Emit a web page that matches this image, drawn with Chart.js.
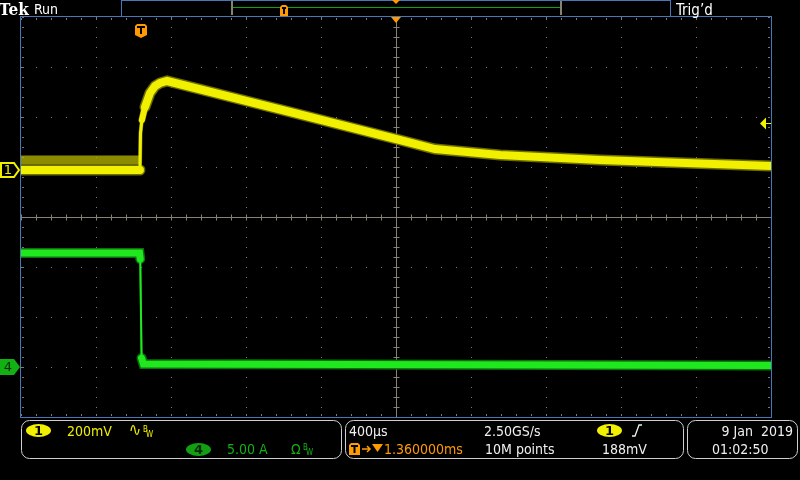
<!DOCTYPE html>
<html>
<head>
<meta charset="utf-8">
<script src="https://cdn.jsdelivr.net/npm/chart.js@4.4.1/dist/chart.umd.min.js"></script>
<style>
  html, body { margin: 0; padding: 0; background: #000; }
  canvas { display: block; }
</style>
</head>
<body>
<canvas id="scope" width="800" height="480"></canvas>
<script>
// horizontal: 400us/div, 10 divisions, trigger at t=0, center at 1.36 ms
var timeDiv = 0.4;
var timeCenter = 1.36;

// channel 1 (yellow), mV, 200 mV/div, ground marker 0.94 div above center
var ch1Scale = 200;
var ch1Offset = 0.94;
var ch1Time = [-0.64, -0.0055, -0.0027, 0.0048, 0.0213, 0.048, 0.0747, 0.101, 0.139, 0.848, 1.36, 1.568, 1.915, 2.448, 2.981, 3.36];
var ch1mV   = [0, 0, 148, 200, 252, 308, 336, 348, 356, 222, 124, 84, 60, 40, 26, 16];
// pre-trigger noise stripe above the baseline
var ch1NoiseTime = [-0.64, -0.006];
var ch1NoisemV   = [40, 40];
var ch1TrigLevel = 188;

// channel 4 (green), A, 5 A/div, ground marker 3 div below center
var ch4Scale = 5;
var ch4Offset = -3;
var ch4Time = [-0.64, -0.008, -0.004, 0.003, 0.013, 3.36];
var ch4Amps = [11.4, 11.4, 10.8, 0.9, 0.3, 0.15];

function toDiv(times, vals, scale, offset) {
  return times.map(function(t, i) { return {x: t, y: offset + vals[i] / scale}; });
}

var xMin = timeCenter - 5 * timeDiv;
var xMax = timeCenter + 5 * timeDiv;

var yellow = '#f0f000';
var green = '#1fe81f';
var orange = '#ff9a00';
var blue = '#4677b8';
var tan = '#8a8270';

function thinRise(ctx) {
  if (ctx.p0.parsed.x > -0.006 && ctx.p1.parsed.x < 0.006) return 3;
  if (ctx.p0.parsed.x > -0.006 && ctx.p1.parsed.x < 0.03) return 6;
  return undefined;
}
function thinDrop(ctx) {
  if (Math.abs(ctx.p1.parsed.y - ctx.p0.parsed.y) > 0.5) return 2;
  return undefined;
}

var scopeGrid = {
  id: 'scopeGrid',
  beforeDatasetsDraw: function(chart) {
    var ctx = chart.ctx, a = chart.chartArea, x = chart.scales.x, y = chart.scales.y;
    var i, j, px, py;
    ctx.save();
    ctx.fillStyle = '#7a7a7a';
    // dotted division lines
    for (i = 1; i < 10; i++) {
      if (i === 5) continue;
      px = Math.round(x.getPixelForValue(xMin + i * timeDiv));
      for (j = 0; j <= 40; j++) {
        py = Math.round(y.getPixelForValue(-4 + j * 0.2));
        ctx.fillRect(px, py, 1, 1);
      }
    }
    for (i = 1; i < 8; i++) {
      if (i === 4) continue;
      py = Math.round(y.getPixelForValue(-4 + i));
      for (j = 0; j <= 50; j++) {
        px = Math.round(x.getPixelForValue(xMin + j * timeDiv / 5));
        ctx.fillRect(px, py, 1, 1);
      }
    }
    // edge ticks
    for (j = 0; j <= 40; j++) {
      py = Math.round(y.getPixelForValue(-4 + j * 0.2));
      ctx.fillRect(a.left + 1, py, 2, 1);
      ctx.fillRect(a.right - 3, py, 2, 1);
    }
    for (j = 0; j <= 50; j++) {
      px = Math.round(x.getPixelForValue(xMin + j * timeDiv / 5));
      ctx.fillRect(px, a.top + 1, 1, 2);
      ctx.fillRect(px, a.bottom - 3, 1, 2);
    }
    // center crosshair
    var cx = Math.round(x.getPixelForValue(timeCenter)) + 0.5;
    var cy = Math.round(y.getPixelForValue(0)) + 0.5;
    ctx.strokeStyle = tan;
    ctx.lineWidth = 1;
    ctx.beginPath();
    ctx.moveTo(cx, a.top); ctx.lineTo(cx, a.bottom);
    ctx.moveTo(a.left, cy); ctx.lineTo(a.right, cy);
    for (j = 0; j <= 40; j++) {
      py = Math.round(y.getPixelForValue(-4 + j * 0.2)) + 0.5;
      ctx.moveTo(cx - 3, py); ctx.lineTo(cx + 3, py);
    }
    for (j = 0; j <= 50; j++) {
      px = Math.round(x.getPixelForValue(xMin + j * timeDiv / 5)) + 0.5;
      ctx.moveTo(px, cy - 3); ctx.lineTo(px, cy + 3);
    }
    ctx.stroke();
    ctx.restore();
  }
};

function roundRect(ctx, x, y, w, h, r) {
  ctx.beginPath();
  ctx.moveTo(x + r, y);
  ctx.arcTo(x + w, y, x + w, y + h, r);
  ctx.arcTo(x + w, y + h, x, y + h, r);
  ctx.arcTo(x, y + h, x, y, r);
  ctx.arcTo(x, y, x + w, y, r);
  ctx.closePath();
}

function badge(ctx, cx, cy, fill, label, color) {
  ctx.fillStyle = fill;
  ctx.beginPath();
  ctx.ellipse(cx, cy, 12.5, 6.5, 0, 0, Math.PI * 2);
  ctx.fill();
  ctx.fillStyle = color;
  ctx.font = 'bold 13px "DejaVu Sans"';
  ctx.textAlign = 'center';
  ctx.textBaseline = 'middle';
  ctx.fillText(label, cx, cy + 1);
  ctx.textAlign = 'left';
  ctx.textBaseline = 'alphabetic';
}

function tBox(ctx, x, y, w, h, pointed) {
  ctx.fillStyle = orange;
  ctx.beginPath();
  ctx.moveTo(x, y + 2);
  ctx.lineTo(x + 2, y);
  ctx.lineTo(x + w - 2, y);
  ctx.lineTo(x + w, y + 2);
  if (pointed) {
    ctx.lineTo(x + w, y + h - 3);
    ctx.lineTo(x + w / 2, y + h);
    ctx.lineTo(x, y + h - 3);
  } else {
    ctx.lineTo(x + w, y + h);
    ctx.lineTo(x, y + h);
  }
  ctx.closePath();
  ctx.fill();
  ctx.fillStyle = '#000';
  ctx.fillRect(x + 2, y + 2, w - 4, 2);
  ctx.fillRect(x + w / 2 - 1, y + 2, 2, h - (pointed ? 6 : 4));
}

function bwMark(ctx, x, y, color) {
  ctx.fillStyle = color;
  ctx.font = '8px "DejaVu Sans Condensed", "DejaVu Sans"';
  ctx.fillText('B', x, y - 4);
  ctx.fillText('W', x + 3, y + 1);
}

var scopeChrome = {
  id: 'scopeChrome',
  afterDraw: function(chart) {
    var ctx = chart.ctx, a = chart.chartArea, x = chart.scales.x, y = chart.scales.y;
    var txt = '14px "DejaVu Sans Condensed", "Liberation Sans Narrow", "DejaVu Sans", sans-serif';
    ctx.save();

    // plot border
    ctx.strokeStyle = blue;
    ctx.lineWidth = 1;
    ctx.strokeRect(a.left - 0.5, a.top - 0.5, a.right - a.left + 1, a.bottom - a.top + 1);

    // top bar
    ctx.fillStyle = '#fff';
    ctx.font = 'bold 17px "DejaVu Serif Condensed", "DejaVu Serif", serif';
    ctx.fillText('Tek', -1, 15);
    ctx.font = txt;
    ctx.fillText('Run', 34, 14);
    ctx.font = '15px "DejaVu Sans Condensed", "DejaVu Sans", sans-serif';
    ctx.fillText('Trig\u2019d', 676, 15);
    ctx.strokeStyle = blue;
    ctx.lineWidth = 1;
    ctx.strokeRect(121.5, 0.5, 549, 16);
    ctx.strokeStyle = '#10a010';
    ctx.beginPath(); ctx.moveTo(232, 7.5); ctx.lineTo(561, 7.5); ctx.stroke();
    ctx.strokeStyle = tan;
    ctx.lineWidth = 2;
    ctx.beginPath();
    ctx.moveTo(233, 2); ctx.lineTo(232, 2); ctx.lineTo(232, 14); ctx.lineTo(233, 14);
    ctx.moveTo(560, 2); ctx.lineTo(561, 2); ctx.lineTo(561, 14); ctx.lineTo(560, 14);
    ctx.stroke();
    tBox(ctx, 280, 5, 8, 11, false);
    var cx = x.getPixelForValue(timeCenter);
    ctx.fillStyle = orange;
    ctx.beginPath(); ctx.moveTo(cx - 4, 0); ctx.lineTo(cx + 4, 0); ctx.lineTo(cx, 4); ctx.fill();
    ctx.beginPath(); ctx.moveTo(cx - 5, a.top); ctx.lineTo(cx + 5, a.top); ctx.lineTo(cx, a.top + 6); ctx.fill();

    // trigger position marker
    var tx = x.getPixelForValue(0);
    tBox(ctx, tx - 6, 24, 12, 14, true);

    // channel markers
    var y1 = y.getPixelForValue(ch1Offset);
    ctx.strokeStyle = yellow;
    ctx.lineWidth = 2;
    ctx.beginPath();
    ctx.moveTo(1, y1 - 7); ctx.lineTo(14, y1 - 7); ctx.lineTo(19, y1); ctx.lineTo(14, y1 + 7); ctx.lineTo(1, y1 + 7); ctx.closePath();
    ctx.stroke();
    ctx.fillStyle = yellow;
    ctx.font = '13px "DejaVu Sans"';
    ctx.textAlign = 'center';
    ctx.textBaseline = 'middle';
    ctx.fillText('1', 8, y1 + 1);
    var y4 = y.getPixelForValue(ch4Offset);
    ctx.fillStyle = '#12b012';
    ctx.beginPath();
    ctx.moveTo(0, y4 - 8); ctx.lineTo(14, y4 - 8); ctx.lineTo(20, y4); ctx.lineTo(14, y4 + 8); ctx.lineTo(0, y4 + 8); ctx.closePath();
    ctx.fill();
    ctx.fillStyle = '#062a06';
    ctx.fillText('4', 8, y4 + 1);
    ctx.textAlign = 'left';
    ctx.textBaseline = 'alphabetic';

    // trigger level arrow
    var yt = Math.round(y.getPixelForValue(ch1Offset + ch1TrigLevel / ch1Scale)) + 0.5;
    ctx.fillStyle = yellow;
    ctx.beginPath(); ctx.moveTo(760, yt); ctx.lineTo(766, yt - 6); ctx.lineTo(766, yt + 6); ctx.fill();
    ctx.strokeStyle = yellow;
    ctx.lineWidth = 1;
    ctx.beginPath(); ctx.moveTo(766, yt); ctx.lineTo(771, yt); ctx.stroke();

    // bottom panels
    ctx.strokeStyle = '#cfcfcf';
    ctx.lineWidth = 1;
    roundRect(ctx, 21.5, 420.5, 320, 38, 8); ctx.stroke();
    roundRect(ctx, 345.5, 420.5, 338, 38, 8); ctx.stroke();
    roundRect(ctx, 687.5, 420.5, 110, 38, 8); ctx.stroke();

    badge(ctx, 38.5, 430.5, yellow, '1', '#000');
    ctx.font = txt;
    ctx.fillStyle = yellow;
    ctx.fillText('200mV', 67, 436);
    ctx.strokeStyle = yellow;
    ctx.lineWidth = 1.3;
    ctx.beginPath();
    ctx.moveTo(131, 431);
    ctx.bezierCurveTo(132, 424, 134, 424, 135, 430);
    ctx.bezierCurveTo(136, 436, 138, 436, 139, 429);
    ctx.stroke();
    bwMark(ctx, 143, 436, yellow);

    badge(ctx, 198.5, 449.5, '#12a012', '4', '#062a06');
    ctx.font = txt;
    ctx.fillStyle = '#12b012';
    ctx.fillText('5.00 A', 227, 454);
    ctx.fillText('\u03A9', 291, 454);
    bwMark(ctx, 303, 454, '#12b012');

    ctx.font = txt;
    ctx.fillStyle = '#f0f0f0';
    ctx.fillText('400\u00B5s', 349, 436);
    ctx.fillText('2.50GS/s', 484, 436);
    ctx.fillText('10M points', 485, 454);
    ctx.fillText('188mV', 602, 454);
    tBox(ctx, 349, 443, 11, 12, false);
    ctx.strokeStyle = orange;
    ctx.lineWidth = 1.5;
    ctx.beginPath(); ctx.moveTo(362, 449); ctx.lineTo(370, 449); ctx.moveTo(367, 446); ctx.lineTo(370, 449); ctx.lineTo(367, 452); ctx.stroke();
    ctx.fillStyle = orange;
    ctx.beginPath(); ctx.moveTo(372, 444); ctx.lineTo(383, 444); ctx.lineTo(377.5, 452); ctx.fill();
    ctx.font = txt;
    ctx.fillText('1.360000ms', 384, 454);

    badge(ctx, 609.5, 430.5, yellow, '1', '#000');
    ctx.strokeStyle = '#f0f0f0';
    ctx.lineWidth = 1.3;
    ctx.beginPath(); ctx.moveTo(632, 436); ctx.lineTo(635, 436); ctx.lineTo(639, 425); ctx.lineTo(642, 425); ctx.stroke();

    ctx.font = txt;
    ctx.fillStyle = '#f0f0f0';
    ctx.textAlign = 'right';
    ctx.fillText('9 Jan  2019', 793, 436);
    ctx.textAlign = 'left';
    ctx.fillText('01:02:50', 712, 454);

    ctx.restore();
  }
};

// datasets are painted last-to-first, so the bright traces come first
var config = {
  type: 'line',
  data: {
    datasets: [
      {
        label: 'ch1',
        data: toDiv(ch1Time, ch1mV, ch1Scale, ch1Offset),
        borderColor: yellow,
        borderWidth: 8,
        borderCapStyle: 'round',
        clip: 0,
        pointRadius: 0,
        segment: { borderWidth: thinRise }
      },
      {
        label: 'ch4',
        data: toDiv(ch4Time, ch4Amps, ch4Scale, ch4Offset),
        borderColor: green,
        borderWidth: 7,
        borderCapStyle: 'round',
        clip: 0,
        pointRadius: 0,
        segment: { borderWidth: thinDrop }
      },
      {
        label: 'ch1 noise',
        data: toDiv(ch1NoiseTime, ch1NoisemV, ch1Scale, ch1Offset),
        borderColor: 'rgba(185,185,0,0.75)',
        borderWidth: 9,
        clip: 0,
        pointRadius: 0
      },
      {
        label: 'ch1 halo',
        data: toDiv(ch1Time, ch1mV, ch1Scale, ch1Offset),
        borderColor: '#6e6e00',
        borderWidth: 11,
        borderCapStyle: 'round',
        clip: 0,
        pointRadius: 0,
        segment: { borderWidth: function(c) { var w = thinRise(c); return w ? w + 1 : undefined; } }
      },
      {
        label: 'ch4 halo',
        data: toDiv(ch4Time, ch4Amps, ch4Scale, ch4Offset),
        borderColor: '#0c700c',
        borderWidth: 10,
        borderCapStyle: 'round',
        clip: 0,
        pointRadius: 0,
        segment: { borderWidth: thinDrop }
      }
    ]
  },
  options: {
    responsive: false,
    animation: false,
    events: [],
    layout: { padding: { left: 21, right: 29, top: 17, bottom: 63 } },
    scales: {
      x: { type: 'linear', min: xMin, max: xMax, display: false },
      y: { type: 'linear', min: -4, max: 4, display: false }
    },
    plugins: {
      legend: { display: false },
      tooltip: { enabled: false }
    }
  },
  plugins: [scopeGrid, scopeChrome]
};

window.onload = function() {
  var ctx = document.getElementById('scope').getContext('2d');
  window.scopeChart = new Chart(ctx, config);
};
</script>
</body>
</html>
